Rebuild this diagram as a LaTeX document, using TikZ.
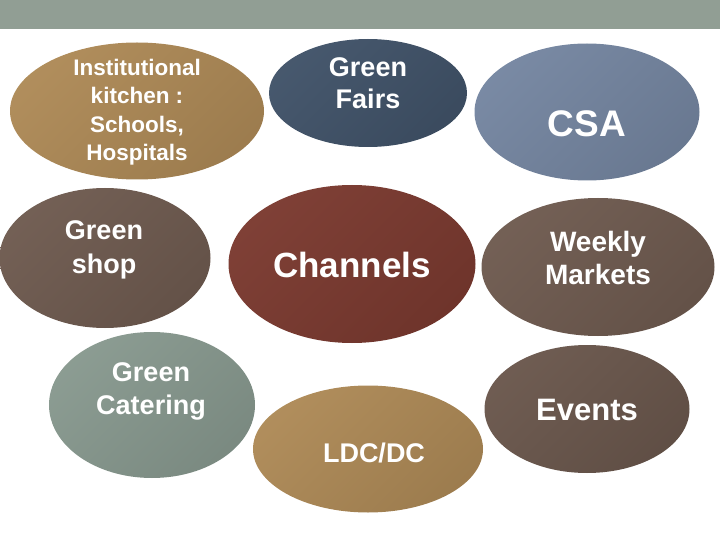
\documentclass[tikz,border=0pt]{standalone}
\usepackage{fontspec}
\setmainfont{Liberation Sans}
\usetikzlibrary{shapes.geometric,positioning}
\definecolor{bandgray}{HTML}{919E94}
\definecolor{tan}{HTML}{AE8A57}
\definecolor{slate}{HTML}{415369}
\definecolor{steel}{HTML}{7586A1}
\definecolor{umber}{HTML}{6F5B50}
\definecolor{brick}{HTML}{7B3A30}
\definecolor{sage}{HTML}{88998F}
\begin{document}
\begin{tikzpicture} [x=1pt,y=-1pt,{oval/.style={ellipse,draw=none,inner sep=0pt,top color=#1!97!white,bottom color=#1!90!black,shading angle=45}},{lbl/.style={text=white,align=center}}]
		%frame
		\useasboundingbox (0,0) rectangle (720,540);
		\fill [bandgray] (0,0) rectangle (720,29);
		%%channel ovals
		\node at (137,111) [oval=tan,minimum width=254pt,minimum height=137pt] (inst) {};
		\node at (368,93) [oval=slate,minimum width=198pt,minimum height=108pt] (fairs) {};
		\node at (587,112) [oval=steel,minimum width=225pt,minimum height=137pt] (csa) {};
		\node at (105,258) [oval=umber,minimum width=211pt,minimum height=140pt] (shop) {};
		\node at (352,264) [oval=brick,minimum width=247pt,minimum height=158pt] (chan) {};
		\node at (598,267) [oval=umber,minimum width=233pt,minimum height=138pt] (weekly) {};
		\node at (152,405) [oval=sage,minimum width=206pt,minimum height=146pt] (cater) {};
		\node at (368,449) [oval=tan,minimum width=230pt,minimum height=127pt] (ldc) {};
		\node at (587,409) [oval=umber!96!black,minimum width=205pt,minimum height=128pt] (events) {};
		%%labels
		\node at (137,112) [lbl,font=\bfseries\fontsize{22.5}{28.5}\selectfont] (insttxt) {Institutional\\kitchen :\\Schools,\\Hospitals};
		\node at (368,83) [lbl,font=\bfseries\fontsize{27}{32}\selectfont] (fairstxt) {Green\\Fairs};
		\node at (587,124) [lbl,font=\bfseries\fontsize{37}{40}\selectfont] (csatxt) {CSA};
		\node at (104,250) [lbl,font=\bfseries\fontsize{27}{34}\selectfont] (shoptxt) {Green\\shop};
		\node at (352,265) [lbl,font=\bfseries\fontsize{35}{40}\selectfont] (chantxt) {Channels};
		\node at (598,258) [lbl,font=\bfseries\fontsize{28}{33}\selectfont] (weeklytxt) {Weekly\\Markets};
		\node at (151,391) [lbl,font=\bfseries\fontsize{27}{33}\selectfont] (catertxt) {Green\\Catering};
		\node at (374,453) [lbl,font=\bfseries\fontsize{27}{32}\selectfont] (ldctxt) {LDC/DC};
		\node at (587,410) [lbl,font=\bfseries\fontsize{31}{36}\selectfont] (eventstxt) {Events};
	\end{tikzpicture}
\end{document}
